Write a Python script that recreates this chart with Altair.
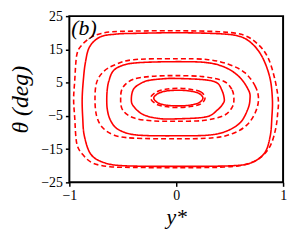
import altair as alt
import pandas as pd

# Loop coordinates (y*, theta in deg), counter-clockwise from the right
s1_x = [0.90, 0.877, 0.81, 0.72, 0.60, 0.40, 0.0, -0.40, -0.56, -0.71, -0.81, -0.85, -0.87, -0.88, -0.875, -0.86, -0.80, -0.68, -0.49, 0.0, 0.525, 0.71, 0.83, 0.88, 0.895]
s1_t = [0.0, 6.4, 12.4, 16.4, 18.85, 19.7, 20.0, 19.8, 19.6, 18.75, 15.8, 11.0, 5.4, 0.0, -5.5, -11.0, -16.5, -19.0, -20.0, -20.2, -20.0, -19.0, -16.0, -11.0, -5.5]

d1_x = [0.955, 0.92, 0.86, 0.77, 0.63, 0.40, 0.0, -0.40, -0.60, -0.70, -0.79, -0.88, -0.93, -0.95, -0.96, -0.95, -0.93, -0.87, -0.78, -0.62, -0.40, 0.0, 0.45, 0.66, 0.79, 0.88, 0.93, 0.95]
d1_t = [0.0, 6.4, 12.4, 16.4, 19.3, 20.3, 20.6, 20.5, 20.3, 19.8, 18.75, 16.4, 13.4, 5.4, 0.0, -5.4, -13.4, -16.8, -19.2, -20.3, -20.5, -20.6, -20.4, -19.5, -17.5, -14.0, -9.0, -4.0]

s2_x = [0.69, 0.68, 0.60, 0.47, 0.29, 0.0, -0.35, -0.50, -0.59, -0.63, -0.645, -0.65, -0.645, -0.62, -0.56, -0.45, -0.30, 0.0, 0.30, 0.47, 0.60, 0.67]
s2_t = [0.0, 2.5, 6.4, 9.4, 11.0, 11.3, 11.0, 10.2, 8.5, 5.5, 3.0, 0.0, -3.0, -6.0, -8.7, -10.3, -10.9, -11.0, -10.8, -9.6, -7.0, -3.0]

d2_x = [0.77, 0.74, 0.645, 0.50, 0.30, 0.0, -0.40, -0.57, -0.68, -0.745, -0.76, -0.745, -0.69, -0.58, -0.40, 0.0, 0.35, 0.53, 0.66, 0.74]
d2_t = [0.0, 3.9, 7.9, 10.4, 11.9, 12.2, 11.9, 10.4, 8.3, 5.0, 0.0, -5.0, -8.5, -10.8, -11.7, -11.9, -11.6, -10.3, -7.8, -4.0]

s3_x = [0.45, 0.43, 0.38, 0.25, 0.0, -0.10, -0.25, -0.33, -0.40, -0.42, -0.40, -0.31, -0.16, 0.0, 0.28, 0.39, 0.44]
s3_t = [0.0, 2.5, 4.96, 5.9, 6.25, 6.2, 5.7, 4.8, 3.0, 0.0, -2.1, -4.6, -5.8, -5.9, -5.3, -3.1, -1.2]

d3_x = [0.54, 0.52, 0.44, 0.25, 0.0, -0.22, -0.40, -0.50, -0.52, -0.50, -0.40, -0.22, 0.0, 0.25, 0.44, 0.52]
d3_t = [0.0, 3.0, 5.5, 6.8, 7.1, 6.9, 6.0, 3.5, 0.0, -3.3, -5.6, -6.5, -6.6, -6.4, -5.0, -2.6]

s4_x = [0.25, 0.21, 0.12, 0.02, -0.09, -0.17, -0.21, -0.17, -0.09, 0.02, 0.12, 0.21]
s4_t = [0.35, 1.8, 2.5, 2.7, 2.5, 1.7, 0.35, -1.1, -1.8, -2.0, -1.8, -1.1]

d4_x = [0.27, 0.23, 0.13, 0.015, -0.10, -0.19, -0.24, -0.19, -0.10, 0.015, 0.13, 0.23]
d4_t = [0.4, 2.2, 3.0, 3.3, 3.0, 2.1, 0.4, -1.4, -2.2, -2.5, -2.2, -1.4]

panel_label = ["(b)"]

loops = [
    ("s1", "solid", s1_x, s1_t), ("d1", "dashed", d1_x, d1_t),
    ("s2", "solid", s2_x, s2_t), ("d2", "dashed", d2_x, d2_t),
    ("s3", "solid", s3_x, s3_t), ("d3", "dashed", d3_x, d3_t),
    ("s4", "solid", s4_x, s4_t), ("d4", "dashed", d4_x, d4_t),
]

rows = []
for name, style, xs, ts in loops:
    for i, (xv, tv) in enumerate(zip(xs, ts)):
        rows.append({"loop": name, "style": style, "seq": i, "ystar": xv, "theta": tv})
df = pd.DataFrame(rows)

x_tick_count = 3  # ticks at -1, 0, 1
y_ticks = [-25, -15, -5, 5, 15, 25]
FONT = "Liberation Serif"

lines = alt.Chart(df).mark_line(
    interpolate="cardinal-closed", color="#ff0000", strokeWidth=1.6, clip=True
).encode(
    x=alt.X("ystar:Q", scale=alt.Scale(domain=[-1, 1], nice=False, zero=False),
            axis=alt.Axis(tickCount=x_tick_count, format="d", title="y*", titleFontSize=22,
                          titleFontStyle="italic", titleFontWeight="normal",
                          titleX=108, titleY=42, titleBaseline="alphabetic",
                          titleAlign="center", labelOverlap=False, labelFlush=False,
                          labelPadding=2)),
    y=alt.Y("theta:Q", scale=alt.Scale(domain=[-25, 25], nice=False, zero=False),
            axis=alt.Axis(values=y_ticks, format="d", title="θ (deg)", titleFontSize=24,
                          titleFontStyle="italic", titleFontWeight="normal",
                          titleX=-42, titleY=84, titleAngle=-90,
                          titleBaseline="alphabetic", titleAlign="center",
                          labelOverlap=False, labelFlush=False)),
    detail="loop:N",
    order="seq:Q",
    strokeDash=alt.StrokeDash("style:N",
                              scale=alt.Scale(domain=["solid", "dashed"], range=[[1, 0], [5, 3]]),
                              legend=None),
)

label = alt.Chart(pd.DataFrame({"txt": panel_label})).mark_text(
    align="left", baseline="alphabetic", font=FONT, fontSize=22, fontStyle="italic",
    color="black"
).encode(
    x=alt.value(2), y=alt.value(19), text="txt:N"
)

chart = alt.layer(lines, label).properties(
    width=216, height=168,
    autosize="none",
    padding={"left": 62, "top": 7, "right": 8, "bottom": 52},
).configure_view(
    stroke="black", strokeWidth=2
).configure_axis(
    domain=False, grid=False, tickColor="black", tickSize=4, tickWidth=1.5,
    labelFont=FONT, titleFont=FONT, labelFontSize=14, labelColor="black",
    titleColor="black", labelPadding=3
)

chart.save("out.html", embed_options={"renderer": "svg", "actions": False})
